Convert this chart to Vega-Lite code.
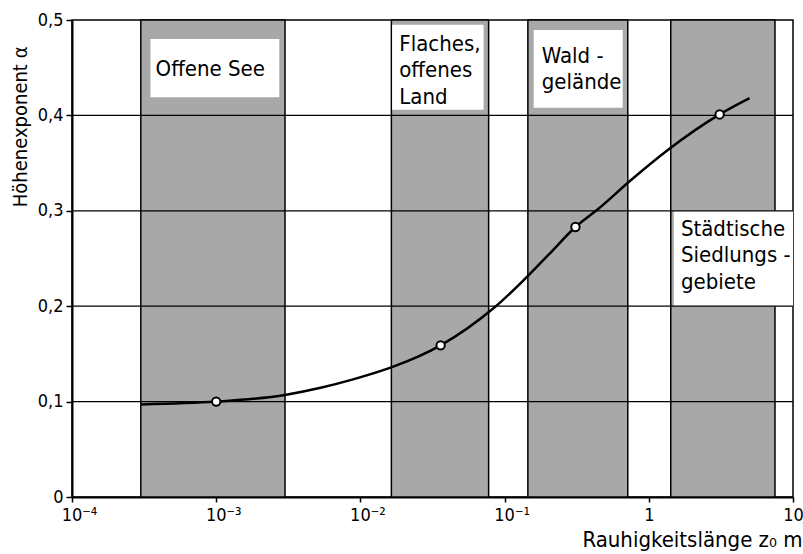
{
  "$schema": "https://vega.github.io/schema/vega-lite/v6.json",
  "width": 721,
  "height": 477,
  "autosize": {"type": "none"},
  "padding": {"left": 72, "top": 20, "right": 10, "bottom": 57},
  "background": "white",
  "config": {
    "font": "DejaVu Sans Condensed, DejaVu Sans",
    "view": {"stroke": "black", "strokeWidth": 1.5},
    "axis": {
      "grid": false,
      "domainColor": "black",
      "domainWidth": 2,
      "tickColor": "black",
      "tickWidth": 1.5,
      "labelColor": "black",
      "titleColor": "black",
      "titleFontWeight": "normal",
      "labelFont": "DejaVu Sans Condensed, DejaVu Sans",
      "titleFont": "DejaVu Sans Condensed, DejaVu Sans"
    }
  },
  "datasets": {
    "zones": [
      {"zone": "Offene See", "lo": 0.0003, "hi": 0.003},
      {"zone": "Flaches, offenes Land", "lo": 0.0164, "hi": 0.0775},
      {"zone": "Waldgelände", "lo": 0.145, "hi": 0.715},
      {"zone": "Städtische Siedlungsgebiete", "lo": 1.42, "hi": 7.5}
    ],
    "boxes": [
      {"zone": "Offene See", "lo": 0.00035, "hi": 0.00274, "bottom": 0.419, "top": 0.48},
      {"zone": "Flaches, offenes Land", "lo": 0.0166, "hi": 0.0715, "bottom": 0.406, "top": 0.495},
      {"zone": "Waldgelände", "lo": 0.159, "hi": 0.659, "bottom": 0.408, "top": 0.4895},
      {"zone": "Städtische Siedlungsgebiete", "lo": 1.49, "hi": 10, "bottom": 0.2, "top": 0.3}
    ],
    "labels": [
      {"text": "Offene See", "z0": 0.00038, "alpha": 0.441},
      {"text": "Flaches,|offenes|Land", "z0": 0.0186, "alpha": 0.468},
      {"text": "Wald -|gelände", "z0": 0.181, "alpha": 0.455},
      {"text": "Städtische|Siedlungs -|gebiete", "z0": 1.67, "alpha": 0.2736}
    ],
    "grid": [
      {"level": 0.1}, {"level": 0.2}, {"level": 0.3}, {"level": 0.4}
    ],
    "curve": [
      {"z0": 0.0003, "alpha": 0.097},
      {"z0": 0.001, "alpha": 0.1},
      {"z0": 0.003, "alpha": 0.107},
      {"z0": 0.0053, "alpha": 0.1145},
      {"z0": 0.0089, "alpha": 0.1233},
      {"z0": 0.0169, "alpha": 0.1366},
      {"z0": 0.036, "alpha": 0.159},
      {"z0": 0.087, "alpha": 0.2},
      {"z0": 0.202, "alpha": 0.254},
      {"z0": 0.31, "alpha": 0.283},
      {"z0": 0.443, "alpha": 0.3016},
      {"z0": 0.75, "alpha": 0.332},
      {"z0": 1.355, "alpha": 0.3637},
      {"z0": 3.1, "alpha": 0.401},
      {"z0": 5.0, "alpha": 0.418}
    ],
    "measured": [
      {"z0": 0.001, "alpha": 0.1},
      {"z0": 0.036, "alpha": 0.159},
      {"z0": 0.31, "alpha": 0.283},
      {"z0": 3.1, "alpha": 0.401}
    ]
  },
  "layer": [
    {
      "data": {"name": "zones"},
      "mark": {"type": "rect", "fill": "#a8a8a8", "stroke": "black", "strokeWidth": 1.5},
      "encoding": {
        "x": {"field": "lo", "type": "quantitative", "title": "Rauhigkeitslänge z₀ m",
              "scale": {"type": "log", "domain": [0.0001, 10], "nice": false}},
        "x2": {"field": "hi"},
        "y": {"datum": 0, "type": "quantitative", "title": "Höhenexponent α",
              "scale": {"domain": [0, 0.5], "nice": false}},
        "y2": {"datum": 0.5}
      }
    },
    {
      "data": {"name": "boxes"},
      "mark": {"type": "rect", "fill": "white"},
      "encoding": {
        "x": {"field": "lo", "type": "quantitative", "title": "Rauhigkeitslänge z₀ m"},
        "x2": {"field": "hi"},
        "y": {"field": "bottom", "type": "quantitative", "title": "Höhenexponent α"},
        "y2": {"field": "top"}
      }
    },
    {
      "data": {"name": "grid"},
      "mark": {"type": "rule", "color": "black", "strokeWidth": 1.2},
      "encoding": {
        "y": {"field": "level", "type": "quantitative", "title": "Höhenexponent α"}
      }
    },
    {
      "data": {"name": "labels"},
      "mark": {"type": "text", "align": "left", "baseline": "alphabetic", "fontSize": 22, "lineBreak": "|", "lineHeight": 26.5, "color": "black"},
      "encoding": {
        "x": {"field": "z0", "type": "quantitative", "title": "Rauhigkeitslänge z₀ m"},
        "y": {"field": "alpha", "type": "quantitative", "title": "Höhenexponent α"},
        "text": {"field": "text", "type": "nominal"}
      }
    },
    {
      "data": {"name": "curve"},
      "mark": {"type": "line", "interpolate": "monotone", "color": "black", "strokeWidth": 2.5},
      "encoding": {
        "x": {
          "field": "z0",
          "type": "quantitative",
          "title": "Rauhigkeitslänge z₀ m",
          "axis": {
            "values": [0.0001, 0.001, 0.01, 0.1, 1, 10],
            "labelExpr": "datum.value < 0.0002 ? '10⁻⁴' : datum.value < 0.002 ? '10⁻³' : datum.value < 0.02 ? '10⁻²' : datum.value < 0.2 ? '10⁻¹' : datum.value < 2 ? '1' : '10'",
            "labelFontSize": 18,
            "labelPadding": 4,
            "tickSize": 5,
            "labelOverlap": false,
            "labelFlush": false,
            "labelBound": false,
            "labelOffset": {"condition": {"test": "datum.value < 0.5", "value": 7}, "value": 0},
            "titleFontSize": 22,
            "titleAnchor": "end",
            "titleAlign": "right",
            "titleX": 730,
            "titleY": 49,
            "titleBaseline": "alphabetic"
          }
        },
        "y": {
          "field": "alpha",
          "type": "quantitative",
          "title": "Höhenexponent α",
          "axis": {
            "values": [0, 0.1, 0.2, 0.3, 0.4, 0.5],
            "labelExpr": "replace(format(datum.value, '.1~f'), '.', ',')",
            "labelFontSize": 18,
            "labelPadding": 3,
            "tickSize": 6,
            "titleFontSize": 20,
            "titleAngle": 270,
            "titleAlign": "right",
            "titleBaseline": "alphabetic",
            "titleX": -46,
            "titleY": 26
          }
        }
      }
    },
    {
      "data": {"name": "measured"},
      "mark": {"type": "point", "shape": "circle", "filled": true, "fill": "white", "stroke": "black", "strokeWidth": 2, "size": 70, "opacity": 1},
      "encoding": {
        "x": {"field": "z0", "type": "quantitative", "title": "Rauhigkeitslänge z₀ m"},
        "y": {"field": "alpha", "type": "quantitative", "title": "Höhenexponent α"}
      }
    }
  ]
}
